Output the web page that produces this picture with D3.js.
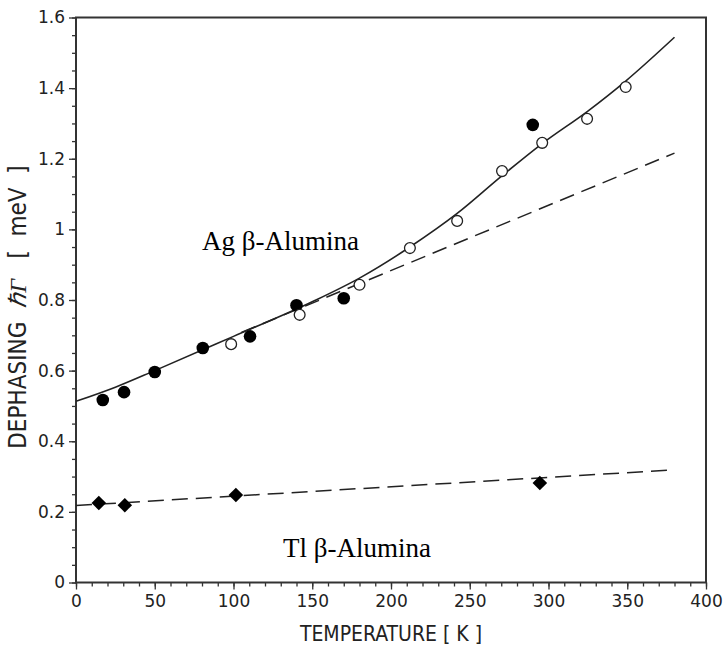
<!DOCTYPE html>
<html>
<head>
<meta charset="utf-8">
<script src="https://cdnjs.cloudflare.com/ajax/libs/d3/7.8.5/d3.min.js"></script>
<style>
  body { margin: 0; background: #fff; }
  .tick text { font-family: "DejaVu Sans", Arial, sans-serif; font-size: 17px; fill: #222; }
  .axis path, .axis line { stroke: #333; }
</style>
</head>
<body>
<div id="chart"></div>
<script>
// Ag beta-alumina, filled circles
var agFilledT = [17, 30.5, 50, 80.5, 110.5, 140, 170, 290];
var agFilledG = [0.517, 0.539, 0.596, 0.664, 0.697, 0.785, 0.805, 1.296];
// Ag beta-alumina, open circles
var agOpenT = [98.5, 142, 180, 212, 242, 270.5, 296, 324.5, 349];
var agOpenG = [0.675, 0.758, 0.843, 0.947, 1.024, 1.165, 1.245, 1.313, 1.403];
// Tl beta-alumina, diamonds
var tlT = [14.5, 31, 101.5, 294.5];
var tlG = [0.225, 0.219, 0.248, 0.282];
// fit curves
var fitT = [0, 25, 50, 100, 150, 180, 212, 242, 270, 296, 325, 349, 380];
var fitG = [0.513, 0.553, 0.600, 0.697, 0.795, 0.862, 0.950, 1.045, 1.150, 1.243, 1.335, 1.420, 1.544];
var agLinT = [105, 380];
var agLinG = [0.708, 1.216];
var tlLinT = [0, 380];
var tlLinG = [0.218, 0.319];

var xTicks = [0, 50, 100, 150, 200, 250, 300, 350, 400];
var yTicks = [0, 0.2, 0.4, 0.6, 0.8, 1, 1.2, 1.4, 1.6];
var yTickLabels = ["0", "0.2", "0.4", "0.6", "0.8", "1", "1.2", "1.4", "1.6"];

var width = 725, height = 646;
var margin = {left: 76, right: 19, top: 17.5, bottom: 63.5};

var svg = d3.select("#chart").append("svg")
    .attr("width", width)
    .attr("height", height);

var x = d3.scaleLinear().domain([0, 400]).range([margin.left, width - margin.right]);
var y = d3.scaleLinear().domain([0, 1.6]).range([height - margin.bottom, margin.top]);

// minor ticks first, majors on top
svg.append("g")
    .attr("class", "axis")
    .attr("transform", "translate(0," + y(0) + ")")
    .call(d3.axisBottom(x).tickValues(d3.range(0, 401, 10)).tickSize(4).tickFormat(""))
    .call(function(g){ g.select(".domain").remove(); });
svg.append("g")
    .attr("class", "axis")
    .attr("transform", "translate(" + x(0) + ",0)")
    .call(d3.axisLeft(y).tickValues(d3.range(0, 1.61, 0.05)).tickSize(4).tickFormat(""))
    .call(function(g){ g.select(".domain").remove(); });

svg.append("g")
    .attr("class", "axis")
    .attr("transform", "translate(0," + y(0) + ")")
    .call(d3.axisBottom(x).tickValues(xTicks).tickSize(7).tickPadding(5))
    .call(function(g){ g.select(".domain").remove(); });
svg.append("g")
    .attr("class", "axis")
    .attr("transform", "translate(" + x(0) + ",0)")
    .call(d3.axisLeft(y).tickValues(yTicks).tickSize(7).tickPadding(4)
      .tickFormat(function(d, i){ return yTickLabels[i]; }))
    .call(function(g){ g.select(".domain").remove(); });

svg.selectAll(".tick line").attr("stroke-width", 1.3);

// frame
svg.append("rect")
    .attr("x", x(0)).attr("y", y(1.6))
    .attr("width", x(400) - x(0)).attr("height", y(0) - y(1.6))
    .attr("fill", "none").attr("stroke", "#333").attr("stroke-width", 2);

var line = d3.line()
    .x(function(d){ return x(d[0]); })
    .y(function(d){ return y(d[1]); });

svg.append("path")
    .datum(d3.zip(agLinT, agLinG))
    .attr("d", line)
    .attr("fill", "none").attr("stroke", "#222").attr("stroke-width", 1.5)
    .attr("stroke-dasharray", "15,8");

svg.append("path")
    .datum(d3.zip(tlLinT, tlLinG))
    .attr("d", line)
    .attr("fill", "none").attr("stroke", "#222").attr("stroke-width", 1.5)
    .attr("stroke-dasharray", "16,8");

svg.append("path")
    .datum(d3.zip(fitT, fitG))
    .attr("d", line.curve(d3.curveMonotoneX))
    .attr("fill", "none").attr("stroke", "#222").attr("stroke-width", 1.6);

svg.selectAll(".filled")
  .data(d3.zip(agFilledT, agFilledG))
  .enter()
  .append("circle")
  .attr("cx", function(d){ return x(d[0]); })
  .attr("cy", function(d){ return y(d[1]); })
  .attr("r", 6.3)
  .style("fill", "#000");

svg.selectAll(".open")
  .data(d3.zip(agOpenT, agOpenG))
  .enter()
  .append("circle")
  .attr("cx", function(d){ return x(d[0]); })
  .attr("cy", function(d){ return y(d[1]); })
  .attr("r", 5.4)
  .style("fill", "#fff")
  .style("stroke", "#222")
  .style("stroke-width", 1.3);

svg.selectAll(".diamond")
  .data(d3.zip(tlT, tlG))
  .enter()
  .append("path")
  .attr("d", d3.symbol().type(d3.symbolDiamond2).size(135))
  .attr("transform", function(d){ return "translate(" + x(d[0]) + "," + y(d[1]) + ")"; })
  .style("fill", "#000");

// labels
svg.append("text")
    .attr("x", 202).attr("y", 250)
    .style("font-family", "'Liberation Serif', 'Times New Roman', serif")
    .style("font-size", "27px")
    .text("Ag β-Alumina");

svg.append("text")
    .attr("x", 283).attr("y", 557)
    .style("font-family", "'Liberation Serif', 'Times New Roman', serif")
    .style("font-size", "27px")
    .text("Tl β-Alumina");

svg.append("text")
    .attr("x", (x(0) + x(400)) / 2).attr("y", 641)
    .attr("text-anchor", "middle")
    .style("font-family", "'Liberation Sans Narrow', 'DejaVu Sans Condensed', sans-serif")
    .style("font-size", "21px")
    .style("fill", "#222")
    .text("TEMPERATURE [ K ]");

var yl = svg.append("text")
    .attr("transform", "translate(26,307) rotate(-90)")
    .attr("text-anchor", "middle")
    .attr("xml:space", "preserve")
    .style("font-family", "'Liberation Sans Narrow', 'DejaVu Sans Condensed', sans-serif")
    .style("font-size", "24px")
    .style("fill", "#222");
yl.append("tspan").text("DEPHASING  ");
yl.append("tspan")
    .style("font-family", "'Liberation Serif', serif")
    .style("font-style", "italic")
    .text("ℏΓ");
yl.append("tspan").text("   [  meV  ]");
</script>
</body>
</html>
